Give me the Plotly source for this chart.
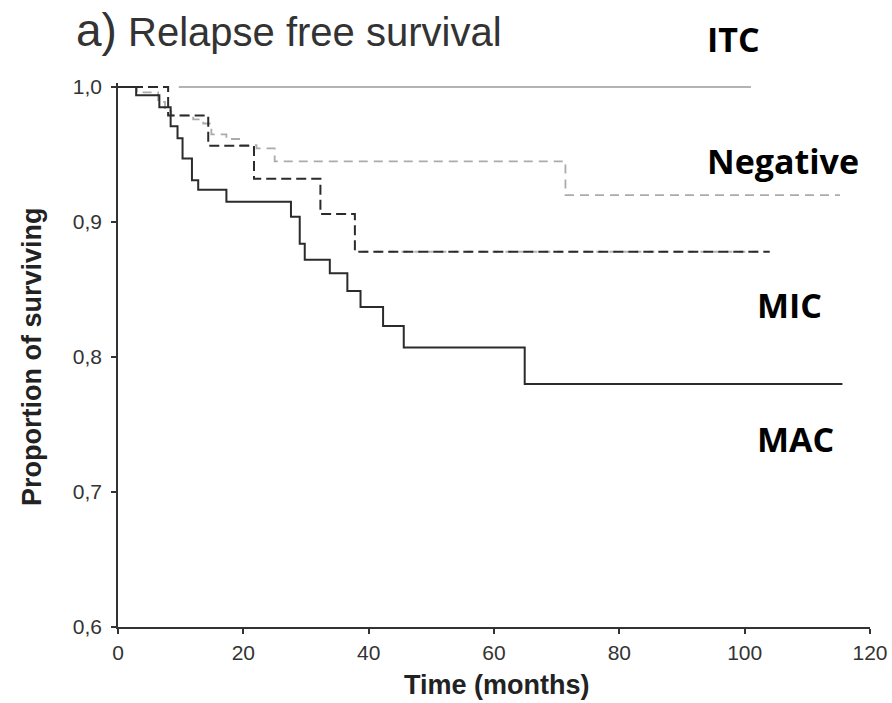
import plotly.graph_objects as go

# ---- data (Kaplan-Meier step curves) ----
itc_time = [9.7, 101.0]
itc_surv = [1.0, 1.0]

neg_time = [0, 3.0, 6.4, 7.5, 8.5, 12.0, 13.6, 14.9, 17.3, 19.5, 22.1, 25.0, 71.4, 115.2]
neg_surv = [1.0, 0.996, 0.989, 0.9825, 0.979, 0.976, 0.973, 0.965, 0.9615, 0.957, 0.9545, 0.945, 0.920, 0.920]

mic_time = [0, 8.0, 14.4, 21.7, 32.3, 37.8, 104.0]
mic_surv = [1.0, 0.979, 0.9565, 0.932, 0.906, 0.878, 0.878]

mac_time = [0, 2.9, 6.6, 8.4, 9.5, 10.3, 11.8, 12.8, 17.3, 27.6, 29.0, 29.8, 33.8, 36.6, 38.7, 42.3, 45.6, 64.9, 115.6]
mac_surv = [1.0, 0.994, 0.985, 0.971, 0.962, 0.947, 0.931, 0.924, 0.915, 0.904, 0.884, 0.872, 0.862, 0.849, 0.837, 0.823, 0.807, 0.780, 0.780]

# censored (grey) marks overlapping the MIC plateau
cens_time = [39.0, 103.0]
cens_surv = [0.878, 0.878]

x_ticks = [0, 20, 40, 60, 80, 100, 120]
y_ticks = [0.6, 0.7, 0.8, 0.9, 1.0]

group_labels = ["ITC", "Negative", "MIC", "MAC"]

# ---- layout geometry ----
W, H = 892, 703
L, R, T, B = 118, 22, 83, 76
PW, PH = W - L - R, H - T - B


def px(x):
    return (x - L) / PW


def py(y):
    return (H - B - y) / PH


fig = go.Figure()

fig.add_trace(go.Scatter(x=itc_time, y=itc_surv, mode="lines", line_shape="hv",
                         line=dict(color="#9a9a9a", width=1.6), name="ITC"))
fig.add_trace(go.Scatter(x=cens_time, y=cens_surv, mode="lines",
                         line=dict(color="#b5b5b5", width=2, dash="6px,7px"), name="cens"))
fig.add_trace(go.Scatter(x=neg_time, y=neg_surv, mode="lines", line_shape="hv",
                         line=dict(color="#ababab", width=1.8, dash="9px,6px"), name="Negative"))
fig.add_trace(go.Scatter(x=mic_time, y=mic_surv, mode="lines", line_shape="hv",
                         line=dict(color="#2b2b2b", width=2, dash="10px,5px"), name="MIC"))
fig.add_trace(go.Scatter(x=mac_time, y=mac_surv, mode="lines", line_shape="hv",
                         line=dict(color="#2b2b2b", width=2), name="MAC"))

fig.update_layout(
    width=W, height=H,
    margin=dict(l=L, r=R, t=T, b=B, autoexpand=False),
    paper_bgcolor="white", plot_bgcolor="white",
    showlegend=False,
    separators=",.",
    font=dict(family="Liberation Sans, Arial, sans-serif", color="#333333"),
)

fig.update_xaxes(
    range=[0, 120], tickvals=x_ticks, ticks="outside", ticklen=5, tickwidth=1.5,
    tickcolor="#333333", showline=True, linecolor="#333333", linewidth=1.5,
    showgrid=False, zeroline=False, tickfont=dict(size=21, color="#333333"),
    ticklabelstandoff=1,
)
fig.update_yaxes(
    range=[0.6, 1.003], tickvals=y_ticks, tickformat=".1f", ticks="outside", ticklen=5,
    tickwidth=1.5, tickcolor="#333333", showline=True, linecolor="#333333", linewidth=1.5,
    showgrid=False, zeroline=False, tickfont=dict(size=21, color="#333333"),
    ticklabelstandoff=5,
)

ann = []
# title
ann.append(dict(xref="paper", yref="paper", x=px(74), y=py(30), xanchor="left", yanchor="middle",
                text="<span style='font-size:46px'>a)</span> Relapse free survival",
                showarrow=False, font=dict(size=40, color="#333333", family="Liberation Sans, Arial")))
# axis titles
ann.append(dict(xref="paper", yref="paper", x=px(497), y=py(685), xanchor="center", yanchor="middle",
                text="<b>Time (months)</b>", showarrow=False,
                font=dict(size=27, color="#222222", family="Liberation Sans, Arial")))
ann.append(dict(xref="paper", yref="paper", x=px(32), y=py(357), xanchor="center", yanchor="middle",
                text="<b>Proportion of surviving</b>", textangle=-90, showarrow=False,
                font=dict(size=27, color="#222222", family="Liberation Sans, Arial")))
# group labels
label_pos = [(705, 39), (705, 161), (755, 305), (755, 439)]
for lab, (lx, ly) in zip(group_labels, label_pos):
    ann.append(dict(xref="paper", yref="paper", x=px(lx), y=py(ly), xanchor="left", yanchor="middle",
                    text="<b>" + lab + "</b>", showarrow=False,
                    font=dict(size=34, color="black", family="Open Sans, sans-serif")))

fig.update_layout(annotations=ann)

fig.write_html("out.html")
